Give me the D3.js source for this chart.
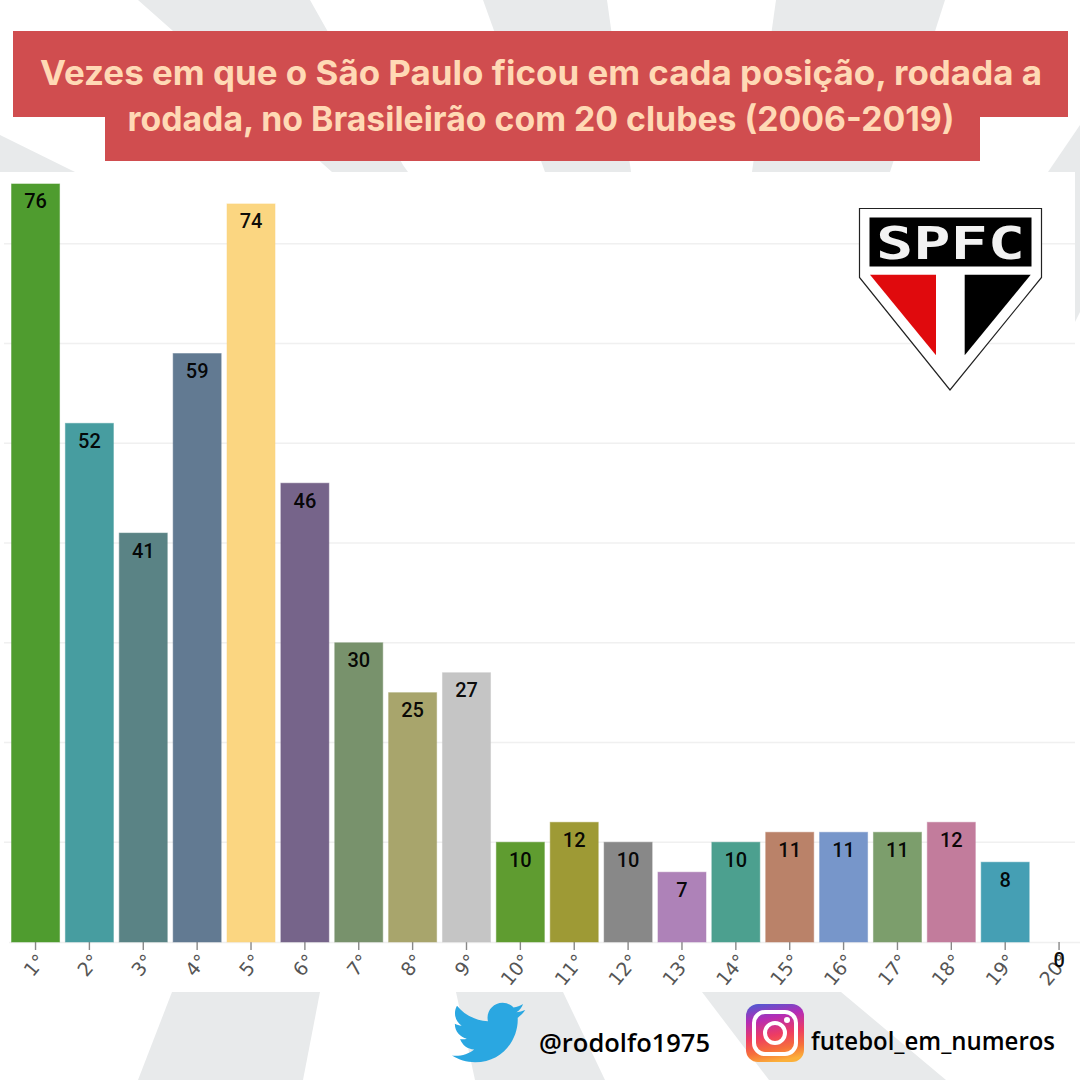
<!DOCTYPE html>
<html><head><meta charset="utf-8">
<script src="https://cdn.jsdelivr.net/npm/d3@7"></script>
<style>html,body{margin:0;padding:0;background:#fff}svg{display:block}</style>
</head><body><svg id="c" width="1080" height="1080"></svg>
<script>
const positions = ["1°","2°","3°","4°","5°","6°","7°","8°","9°","10°","11°","12°","13°","14°","15°","16°","17°","18°","19°","20°"];
const counts = [76,52,41,59,74,46,30,25,27,10,12,10,7,10,11,11,11,12,8,0];
const barColors = ["#4f9c2f","#479da0","#5a8385","#627a92","#fbd681","#76648a","#78926c","#a8a56c","#c5c5c5","#5f9c30","#9e9a35","#888888","#ae82b8","#4ca08f","#ba8269","#7796ca","#7c9e6c","#c27c9c","#459fb4","#cccccc"];
const gridValues = [10,20,30,40,50,60,70];
const titleLines = ["Vezes em que o São Paulo ficou em cada posição, rodada a","rodada, no Brasileirão com 20 clubes (2006-2019)"];

const svg = d3.select("#c");
const bgShapes = [
 [[138,0],[310,0],[403,165],[408,172],[332,172]],
 [[483,0],[607,0],[631,172],[545,172]],
 [[776,0],[945,0],[890,172],[752,172]],
 [[0,135],[75,172],[0,172]],
 [[1080,125],[1048,172],[1080,172]],
 [[1075,172],[1080,172],[1080,312],[1075,322]],
 [[172,992],[320,992],[303,1080],[138,1080]],
 [[456,992],[563,992],[605,1080],[475,1080]],
 [[702,992],[841,992],[946,1080],[769,1080]]
];
svg.selectAll("polygon.bg").data(bgShapes).join("polygon").attr("class","bg")
  .attr("points",d=>d.map(p=>p.join(",")).join(" ")).attr("fill","#e8eaeb");
svg.append("rect").attr("x",4).attr("y",172).attr("width",1071).attr("height",820).attr("fill","#fff");

const x = d3.scaleBand().domain(positions).range([8.6,1086]).paddingInner(0.09).paddingOuter(0.045);
const y = d3.scaleLinear().domain([0,77]).range([942,174]);

svg.append("g").selectAll("line").data(gridValues).join("line")
  .attr("x1",4).attr("x2",1075).attr("y1",d=>y(d)).attr("y2",d=>y(d))
  .attr("stroke","#f0f0f0").attr("stroke-width",1.5);

const axis = svg.append("g").attr("transform","translate(0,942)")
  .call(d3.axisBottom(x).tickSize(8).tickSizeOuter(0).tickPadding(4));
axis.select(".domain").attr("stroke","#f0f0f0").attr("stroke-width",1.5);
axis.selectAll(".tick line").attr("stroke","#888").attr("stroke-width",1.4);
axis.selectAll(".tick text")
  .attr("font-family","'DejaVu Sans'").attr("font-size",19).attr("fill","#555")
  .attr("text-anchor","end").attr("y",0).attr("dy","0.35em")
  .attr("transform","translate(6,15) rotate(-50)");

const n = positions.length;
svg.append("g").selectAll("rect").data(d3.range(n)).join("rect")
  .attr("x",i=>x(positions[i])+0.5).attr("y",i=>y(counts[i]))
  .attr("width",x.bandwidth()-1).attr("height",i=>y(0)-y(counts[i]))
  .attr("fill",i=>barColors[i]).attr("stroke",i=>barColors[i]).attr("stroke-opacity",.5);

svg.append("g").selectAll("text").data(d3.range(n)).join("text")
  .attr("x",i=>x(positions[i])+x.bandwidth()/2).attr("y",i=>y(counts[i])+24.5)
  .attr("text-anchor","middle").attr("font-family","Roboto").attr("font-weight",500)
  .attr("font-size",20).attr("fill","#000").attr("fill-opacity",.95).text(i=>counts[i]);

// Title
svg.append("rect").attr("x",13).attr("y",31).attr("width",1055).attr("height",86).attr("fill","#d04d4f");
svg.append("rect").attr("x",105).attr("y",117).attr("width",875).attr("height",44).attr("fill","#d04d4f");
const title = svg.append("g").attr("font-family","Inter").attr("font-weight",700).attr("font-size",34).attr("fill","#ffd9b5").attr("text-anchor","middle");
title.append("text").attr("x",541).attr("y",85).attr("textLength",1002).attr("lengthAdjust","spacingAndGlyphs").text(titleLines[0]);
title.append("text").attr("x",541).attr("y",131).attr("textLength",827).attr("lengthAdjust","spacingAndGlyphs").text(titleLines[1]);

// Shield
const logo = svg.append("g");
logo.append("polygon").attr("points","859.5,208.5 1041.5,208.5 1041.5,277.5 950,390 859.5,277.5").attr("fill","#fff").attr("stroke","#222").attr("stroke-width",1.2);
logo.append("rect").attr("x",869.5).attr("y",217.5).attr("width",162).attr("height",49).attr("fill","#000");
logo.append("polygon").attr("points","870,274.7 936,274.7 936,355.3").attr("fill","#e00a0d");
logo.append("polygon").attr("points","964.7,274.7 1030.7,274.7 964.7,355.3").attr("fill","#000");
logo.append("text").attr("x",950.5).attr("y",259).attr("text-anchor","middle").attr("font-family","'DejaVu Sans Mono'").attr("font-weight",700)
  .attr("font-size",45).attr("fill","#f2f2f2").attr("textLength",149).attr("lengthAdjust","spacingAndGlyphs").text("SPFC");

// Twitter
svg.append("path").attr("transform","translate(452,996) scale(3.05)").attr("fill","#2aa7e1")
  .attr("d","M23.954 4.569c-.885.389-1.83.654-2.825.775 1.014-.611 1.794-1.574 2.163-2.723-.951.555-2.005.959-3.127 1.184-.896-.959-2.173-1.559-3.591-1.559-2.717 0-4.92 2.203-4.92 4.917 0 .39.045.765.127 1.124C7.691 8.094 4.066 6.13 1.64 3.161c-.427.722-.666 1.561-.666 2.475 0 1.71.87 3.213 2.188 4.096-.807-.026-1.566-.248-2.228-.616v.061c0 2.385 1.693 4.374 3.946 4.827-.413.111-.849.171-1.296.171-.314 0-.615-.03-.916-.086.631 1.953 2.445 3.377 4.604 3.417-1.68 1.319-3.809 2.105-6.102 2.105-.39 0-.779-.023-1.17-.067 2.189 1.394 4.768 2.209 7.557 2.209 9.054 0 13.999-7.496 13.999-13.986 0-.209 0-.42-.015-.63.961-.689 1.8-1.56 2.46-2.548l-.047-.02z");
svg.append("text").attr("x",539).attr("y",1052).attr("font-family","'Open Sans'").attr("font-weight",600).attr("font-size",26).attr("fill","#000")
  .attr("textLength",171).attr("lengthAdjust","spacingAndGlyphs").text("@rodolfo1975");

// Instagram
const defs = svg.append("defs");
const g = defs.append("linearGradient").attr("id","ig").attr("x1","0.3").attr("y1","0").attr("x2","0.5").attr("y2","1");
[["0","#5a55cf"],["0.25","#b52cb5"],["0.55","#ee3c62"],["0.8","#f6703a"],["1","#fbb03a"]].forEach(s=>g.append("stop").attr("offset",s[0]).attr("stop-color",s[1]));
const ig = svg.append("g");
ig.append("rect").attr("x",746).attr("y",1004).attr("width",58).attr("height",58).attr("rx",12).attr("fill","url(#ig)");
ig.append("rect").attr("x",754).attr("y",1012).attr("width",42).attr("height",42).attr("rx",11).attr("fill","none").attr("stroke","#fff").attr("stroke-width",4);
ig.append("circle").attr("cx",775).attr("cy",1033).attr("r",10).attr("fill","none").attr("stroke","#fff").attr("stroke-width",4);
ig.append("circle").attr("cx",787).attr("cy",1020).attr("r",3).attr("fill","#fff");
svg.append("text").attr("x",811).attr("y",1050).attr("font-family","'Open Sans'").attr("font-weight",600).attr("font-size",26).attr("fill","#000")
  .attr("textLength",244).attr("lengthAdjust","spacingAndGlyphs").text("futebol_em_numeros");
</script></body></html>
